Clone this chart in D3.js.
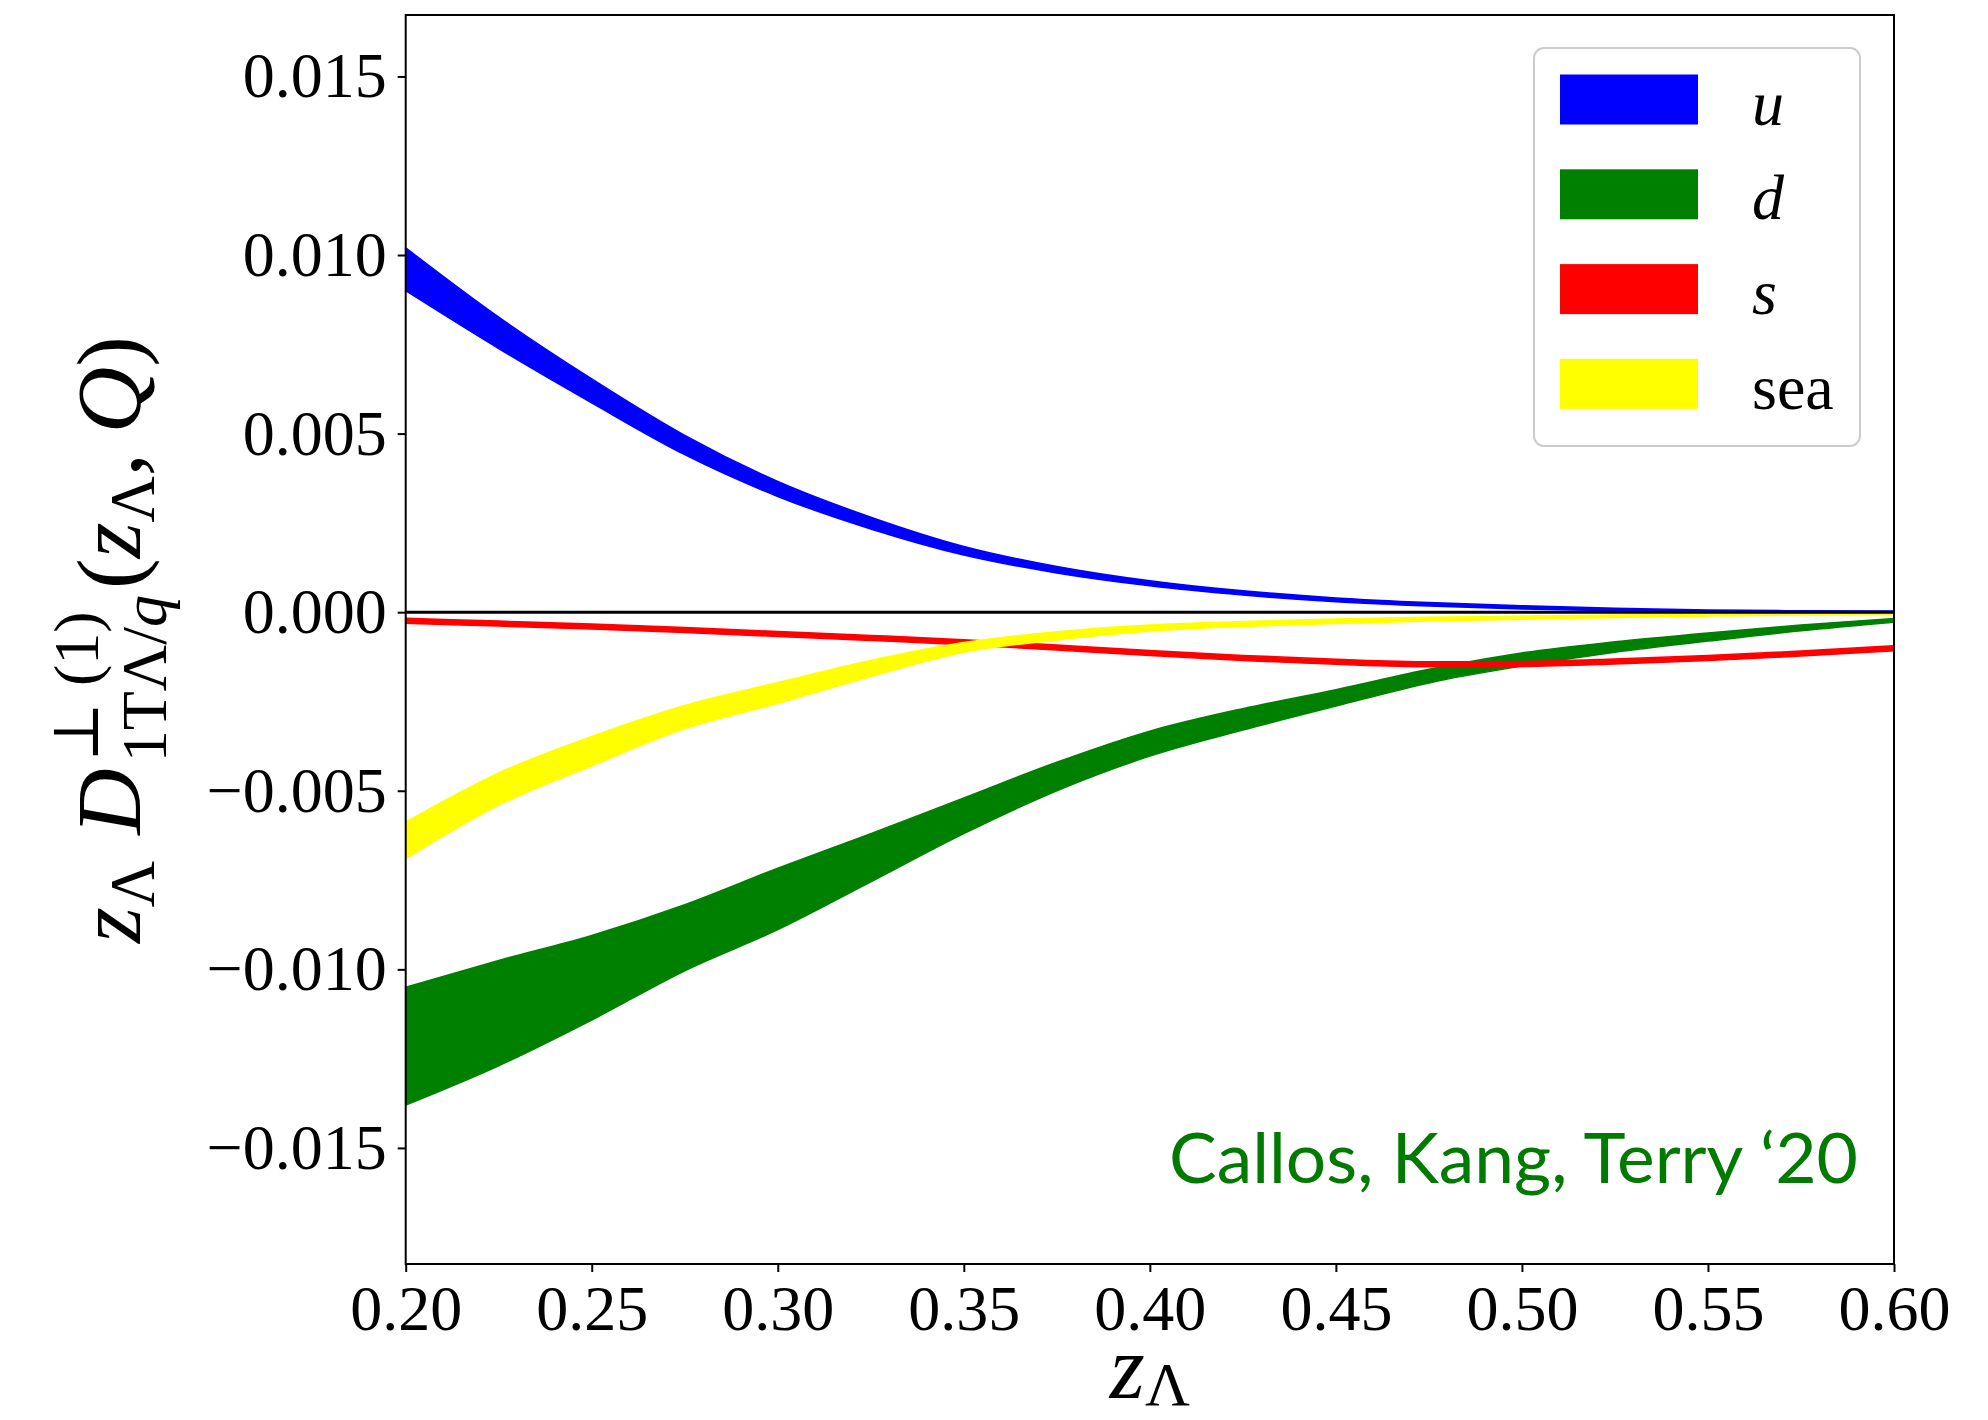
<!DOCTYPE html>
<html>
<head>
<meta charset="utf-8">
<script src="https://cdn.jsdelivr.net/npm/d3@7"></script>
<style>
  body { margin: 0; background: #fff; }
  svg { display: block; }
</style>
</head>
<body>
<div id="chart"></div>
<script>
// z_Lambda grid the bands are read at
const zValues = [0.200, 0.225, 0.250, 0.275, 0.300, 0.325, 0.350, 0.375, 0.400,
                 0.425, 0.450, 0.475, 0.500, 0.525, 0.550, 0.575, 0.600];

// u quark band
const uUpper = [0.0102, 0.00826, 0.00653, 0.00495, 0.00366, 0.00266, 0.00184, 0.00128, 0.00088,
                0.00060, 0.00040, 0.00027, 0.00018, 0.00011, 0.00006, 0.00004, 0.00003];
const uLower = [0.0090, 0.00738, 0.00586, 0.00441, 0.00324, 0.00233, 0.00160, 0.00110, 0.00074,
                0.00048, 0.00029, 0.00017, 0.00009, 0.00004, 0.00001, 0.00000, 0.00000];

// d quark band
const dUpper = [-0.0105, -0.00975, -0.00905, -0.00819, -0.00717, -0.0062, -0.0052, -0.0042, -0.00333,
                -0.0027, -0.00217, -0.00160, -0.00114, -0.00083, -0.00058, -0.00036, -0.00018];
const dLower = [-0.0138, -0.0127, -0.01142, -0.01004, -0.00889, -0.00755, -0.0062, -0.0050, -0.00403,
                -0.0033, -0.00263, -0.00198, -0.00151, -0.00112, -0.00081, -0.00052, -0.00028];

// s quark band (very narrow)
const sUpper = [-0.00017, -0.00025, -0.00033, -0.00043, -0.00054, -0.00065, -0.00077, -0.00092, -0.00107,
                -0.00121, -0.00132, -0.00139, -0.00138, -0.00131, -0.00121, -0.00109, -0.00094];
const sLower = [-0.00031, -0.00039, -0.00047, -0.00057, -0.00068, -0.00079, -0.00091, -0.00106, -0.00121,
                -0.00135, -0.00146, -0.00153, -0.00152, -0.00145, -0.00135, -0.00123, -0.00108];

// sea quark band
const seaUpper = [-0.00588, -0.0045, -0.00348, -0.00261, -0.00197, -0.00135, -0.00085, -0.00055, -0.00036,
                  -0.00026, -0.00019, -0.00014, -0.00011, -0.00008, -0.00006, -0.00004, -0.00003];
const seaLower = [-0.0069, -0.0054, -0.0043, -0.00326, -0.00255, -0.00180, -0.00112, -0.00078, -0.00053,
                  -0.00040, -0.00032, -0.00025, -0.00020, -0.00015, -0.00011, -0.00008, -0.00006];

const seriesNames = ["u", "d", "s", "sea"];
const seriesItalic = [true, true, true, false];
const seriesColors = ["#0000ff", "#008000", "#ff0000", "#ffff00"];

const xTicks = [0.20, 0.25, 0.30, 0.35, 0.40, 0.45, 0.50, 0.55, 0.60];
const yTicks = [-0.015, -0.010, -0.005, 0.000, 0.005, 0.010, 0.015];

const annotation = "Callos, Kang, Terry \u201820";

const serif = "'Liberation Serif', 'DejaVu Serif', serif";

function render(){
    const W = 1988, H = 1420;
    const plot = {left: 405.7, right: 1894, top: 15, bottom: 1264};

    const svg = d3.select('#chart')
        .append('svg')
        .attr('width', W)
        .attr('height', H);

    const x = d3.scaleLinear().domain([0.2, 0.6]).range([plot.left, plot.right]);
    const y = d3.scaleLinear().domain([-0.01825, 0.01672]).range([plot.bottom, plot.top]);

    const bands = [
        {lo: uLower, hi: uUpper},
        {lo: dLower, hi: dUpper},
        {lo: sLower, hi: sUpper},
        {lo: seaLower, hi: seaUpper}
    ];

    const area = d3.area()
        .x(d => x(d.z))
        .y0(d => y(d.lo))
        .y1(d => y(d.hi))
        .curve(d3.curveMonotoneX);

    /* bands ------------*/
    svg.append('g')
        .attr('class', 'bands')
        .selectAll('path')
        .data(bands)
        .enter()
        .append('path')
        .attr('fill', (d, i) => seriesColors[i])
        .attr('stroke', (d, i) => seriesColors[i])
        .attr('stroke-width', 1.5)
        .attr('d', b => area(zValues.map((z, k) => ({z: z, lo: b.lo[k], hi: b.hi[k]}))));

    // zero line
    svg.append('line')
        .attr('x1', x(0.2)).attr('x2', x(0.6))
        .attr('y1', y(0)).attr('y2', y(0))
        .attr('stroke', '#000')
        .attr('stroke-width', 3);

    /* axes ------------*/
    const yAxis = d3.axisLeft(y)
        .tickValues(yTicks)
        .tickFormat(d3.format('.3f'))
        .tickSize(8)
        .tickPadding(11);
    const xAxis = d3.axisBottom(x)
        .tickValues(xTicks)
        .tickFormat(d3.format('.2f'))
        .tickSize(8)
        .tickPadding(13);

    const gy = svg.append('g')
        .attr('transform', `translate(${plot.left},0)`)
        .call(yAxis);
    const gx = svg.append('g')
        .attr('transform', `translate(0,${plot.bottom})`)
        .call(xAxis);

    [gx, gy].forEach(g => {
        g.select('.domain').remove();
        g.selectAll('.tick line').attr('stroke', '#000').attr('stroke-width', 2);
        g.selectAll('.tick text')
            .attr('fill', '#000')
            .style('font-family', serif)
            .style('font-size', '64px');
    });

    // spines
    svg.append('rect')
        .attr('x', plot.left).attr('y', plot.top)
        .attr('width', plot.right - plot.left)
        .attr('height', plot.bottom - plot.top)
        .attr('fill', 'none')
        .attr('stroke', '#000')
        .attr('stroke-width', 2);

    /* x label ------------*/
    const xl = svg.append('text')
        .attr('x', (plot.left + plot.right) / 2)
        .attr('y', 1398)
        .attr('text-anchor', 'middle')
        .style('font-family', serif);
    xl.append('tspan').style('font-size', '90px').style('font-style', 'italic').text('z');
    xl.append('tspan').style('font-size', '62px').attr('dy', 7).text('\u039b');

    /* y label ------------*/
    drawYLabel(svg, (plot.top + plot.bottom) / 2);

    /* legend ------------*/
    const leg = svg.append('g').attr('class', 'legend');
    leg.append('rect')
        .attr('x', 1534).attr('y', 48)
        .attr('width', 326).attr('height', 398)
        .attr('rx', 10)
        .attr('fill', '#fff')
        .attr('stroke', '#cccccc')
        .attr('stroke-width', 2);

    const rows = leg.selectAll('g.row')
        .data(seriesNames)
        .enter()
        .append('g')
        .attr('class', 'row')
        .attr('transform', (d, i) => `translate(1560,${74.5 + i * 94.8})`);
    rows.append('rect')
        .attr('width', 138).attr('height', 50)
        .attr('fill', (d, i) => seriesColors[i]);
    rows.append('text')
        .attr('x', 192).attr('y', 50)
        .style('font-family', serif)
        .style('font-size', '64px')
        .style('font-style', (d, i) => seriesItalic[i] ? 'italic' : 'normal')
        .text(d => d);

    /* annotation ------------*/
    svg.append('text')
        .attr('x', 1858)
        .attr('y', 1183)
        .attr('text-anchor', 'end')
        .attr('fill', '#007a00')
        .attr('textLength', 689)
        .attr('lengthAdjust', 'spacingAndGlyphs')
        .style('font-family', "Lato, 'Open Sans', sans-serif")
        .style('font-size', '70px')
        .text(annotation);
}

function drawYLabel(svg, centerY){
    const big = 92, small = 64;
    const g = svg.append('g').attr('transform', 'translate(140,0) rotate(-90)');
    const row = g.append('g');
    let cx = 0;

    function put(spans, size, dy){
        const t = row.append('text')
            .attr('x', cx).attr('y', dy)
            .style('font-family', serif)
            .style('font-size', size + 'px');
        spans.forEach(s => t.append('tspan')
            .style('font-style', s[1] ? 'italic' : 'normal')
            .text(s[0]));
        return t.node().getComputedTextLength();
    }

    cx += put([['z', true]], big, 0);
    cx += put([['\u039b', false]], small, 14);
    cx += 26;
    cx += put([['D', true]], big, 0) + 6;
    const wSup = put([['\u22a5  (1)', false]], small, -42);
    const wSub = put([['1T\u039b/', false], ['q', true]], small, 26);
    cx += Math.max(wSup, wSub) + 6;
    cx += put([['(', false]], big, 0);
    cx += put([['z', true]], big, 0);
    cx += put([['\u039b', false]], small, 14);
    cx += put([[',', false]], big, 0) + 20;
    cx += put([['Q', true]], big, 0);
    cx += put([[')', false]], big, 0);

    row.attr('transform', `translate(${-centerY - cx / 2},0)`);
}

render()
</script>
</body>
</html>
